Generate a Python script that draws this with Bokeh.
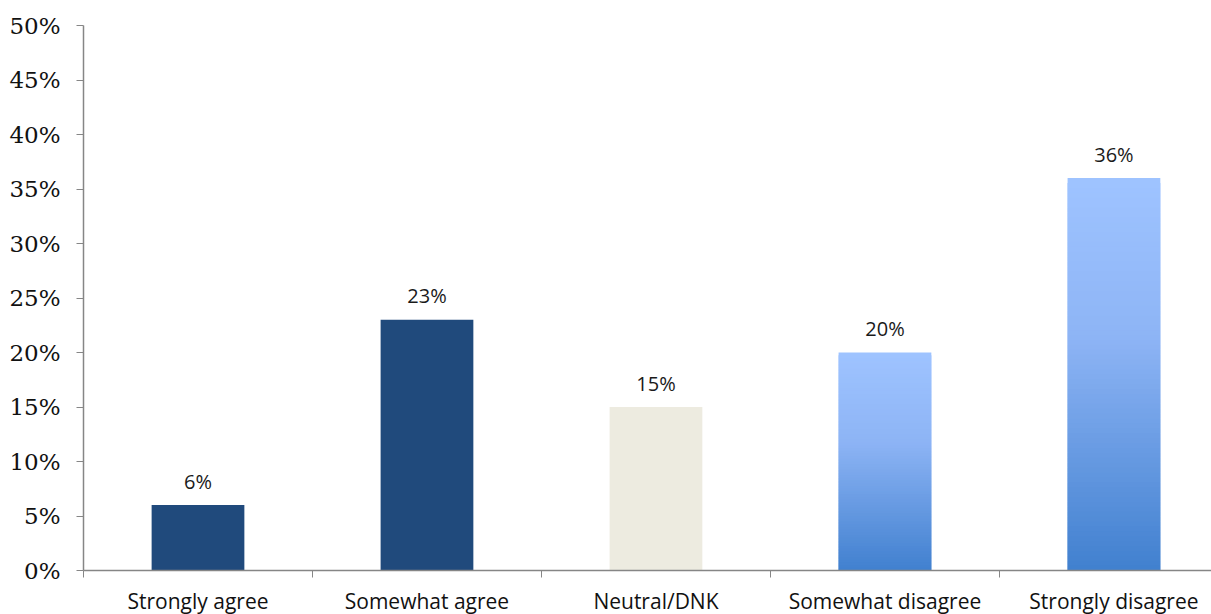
from bokeh.plotting import figure
from bokeh.models import Range1d, FixedTicker, PrintfTickFormatter, ColumnDataSource
from bokeh.core.properties import value
from bokeh.embed import file_html
from bokeh.resources import INLINE

categories = ["Strongly agree", "Somewhat agree", "Neutral/DNK", "Somewhat disagree", "Strongly disagree"]
values = [6, 23, 15, 20, 36]
labels = ["6%", "23%", "15%", "20%", "36%"]
fills = ["#204A7C", "#204A7C", "#EDEBE0", None, None]  # None -> gradient
y_ticks = [0, 5, 10, 15, 20, 25, 30, 35, 40, 45, 50]

p = figure(frame_width=1128, frame_height=545, output_backend="svg", toolbar_location=None,
           x_range=Range1d(0, 4.926), y_range=Range1d(0, 50),
           min_border_left=83, min_border_right=0, min_border_top=25, min_border_bottom=44)
p.outline_line_color = None
p.grid.visible = False
p.background_fill_color = "white"
p.border_fill_color = "white"

xc = [i + 0.5 for i in range(len(categories))]
bw = 0.405

# solid bars
solid = [i for i, f in enumerate(fills) if f is not None]
p.vbar(x=[xc[i] for i in solid], top=[values[i] for i in solid], bottom=0, width=bw,
       fill_color=[fills[i] for i in solid], line_color=None)

# gradient bars (style: light top to darker bottom)
def hex2rgb(h):
    h = h.lstrip("#")
    return tuple(int(h[k:k + 2], 16) for k in (0, 2, 4))

stops = [(0.0, hex2rgb("#9EC3FF")), (0.4, hex2rgb("#8DB4F5")), (1.0, hex2rgb("#3F7FCE"))]

def grad(t):
    for (t0, c0), (t1, c1) in zip(stops[:-1], stops[1:]):
        if t <= t1:
            f = (t - t0) / (t1 - t0)
            return "#%02x%02x%02x" % tuple(int(round(a + (b - a) * f)) for a, b in zip(c0, c1))
    return "#%02x%02x%02x" % stops[-1][1]

N = 80
gx, gb, gt, gc = [], [], [], []
for i, f in enumerate(fills):
    if f is None:
        v = values[i]
        for k in range(N):
            gx.append(xc[i])
            gb.append(v * max(k - 1, 0) / N)
            gt.append(v * (k + 1) / N)
            gc.append(grad(1 - (k + 0.5) / N))
p.vbar(x=gx, bottom=gb, top=gt, width=bw, fill_color=gc, line_color=None)

# data labels
src = ColumnDataSource(dict(x=xc, y=values, t=labels))
p.text(x="x", y="y", text="t", source=src, text_align="center", text_baseline="alphabetic",
       y_offset=-24, text_font_size="20px", text_color="#1a1a1a", text_font=value("Open Sans"))

# x axis
xa = p.xaxis[0]
xa.ticker = FixedTicker(ticks=xc, minor_ticks=[0, 1, 2, 3, 4, 5])
xa.major_label_overrides = {x: c for x, c in zip(xc, categories)}
xa.major_tick_out = 0
xa.major_tick_in = 0
xa.minor_tick_out = 7
xa.minor_tick_in = 0
xa.minor_tick_line_color = "#868686"
xa.axis_line_color = "#868686"
xa.axis_line_width = 1.5
xa.major_label_text_font = "Open Sans"
xa.major_label_text_font_size = "21px"
xa.major_label_text_color = "#111111"
xa.major_label_standoff = 9

# y axis
ya = p.yaxis[0]
ya.ticker = FixedTicker(ticks=y_ticks)
ya.formatter = PrintfTickFormatter(format="%d%%")
ya.major_tick_out = 7
ya.major_tick_in = 0
ya.minor_tick_out = 0
ya.minor_tick_in = 0
ya.major_tick_line_color = "#868686"
ya.axis_line_color = "#868686"
ya.axis_line_width = 1.5
ya.major_label_text_font = "DejaVu Serif"
ya.major_label_text_font_size = "23px"
ya.major_label_text_color = "#111111"
ya.major_label_standoff = 16

open("out.html", "w").write(file_html(p, INLINE))
